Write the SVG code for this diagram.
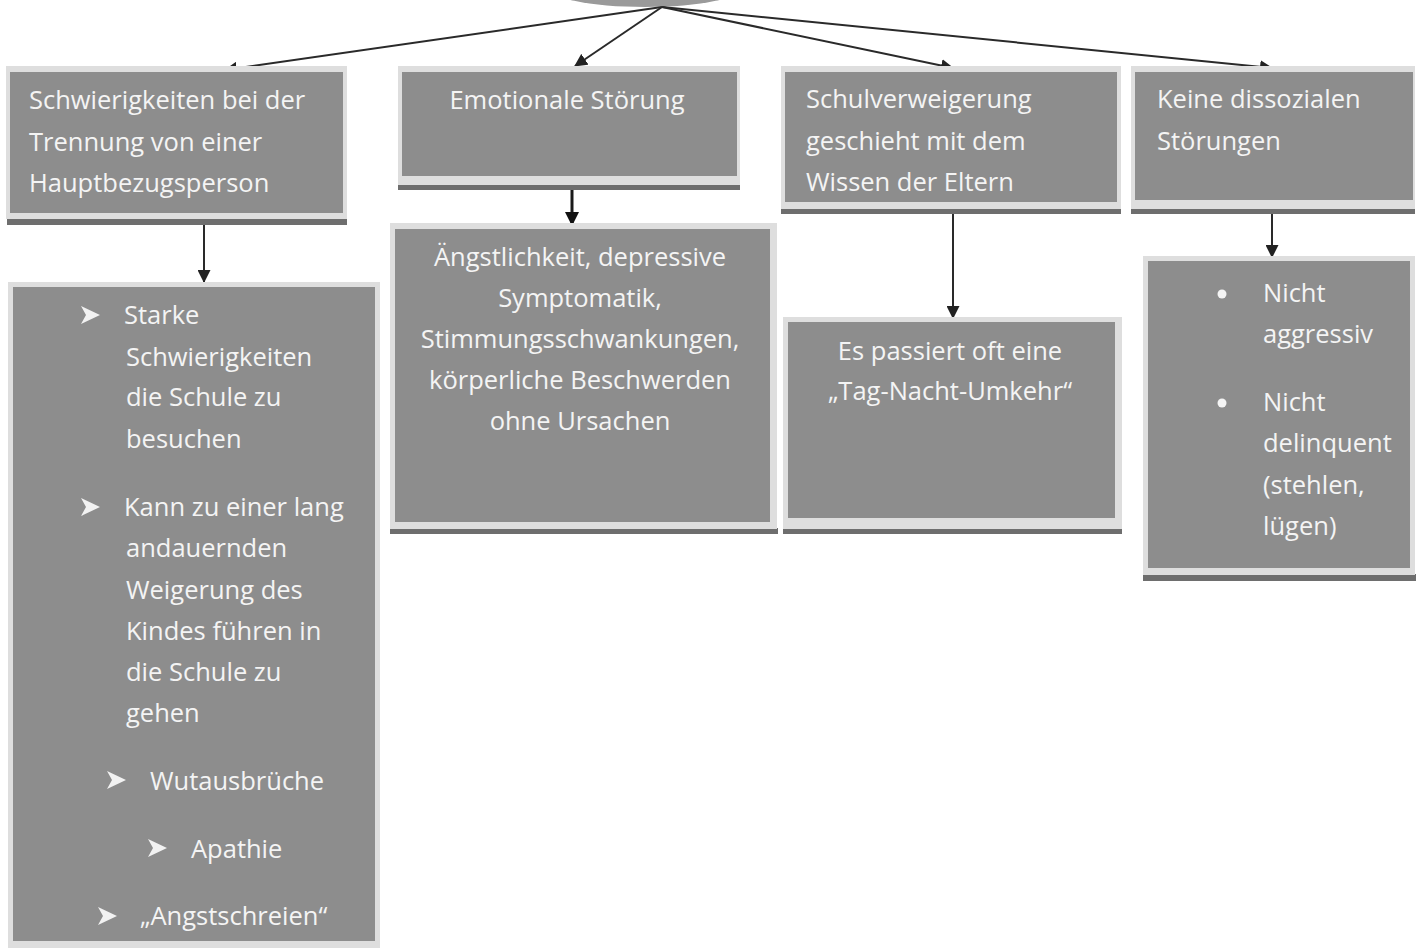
<svg xmlns="http://www.w3.org/2000/svg" width="1418" height="948" viewBox="0 0 1418 948">
<defs>
<style>
.outer{fill:#dedede}
.inner{fill:#8d8d8d}
.shadow{fill:#6e6e6e}
.t{font-family:"Open Sans","Liberation Sans",sans-serif;font-size:25.5px;fill:#f4f4f4}
.c{text-anchor:middle}
.conn{stroke:#2a2a2a;stroke-width:2;fill:none}
.thick{stroke:#1a1a1a;stroke-width:3;fill:none}
</style>
<path id="bul" d="M0,0 L19,9 L0,18 L5,9 z" fill="#f2f2f2"/>
<marker id="ah" markerWidth="13" markerHeight="13" refX="12" refY="6.5" orient="auto" markerUnits="userSpaceOnUse" viewBox="0 0 13 13">
<path d="M0,0 L13,6.5 L0,13 z" fill="#222"/>
</marker>
<marker id="ah2" markerWidth="14" markerHeight="14" refX="12" refY="7" orient="auto" markerUnits="userSpaceOnUse" viewBox="0 0 14 14">
<path d="M0,0 L14,7 L0,14 z" fill="#111"/>
</marker>
</defs>
<rect width="1418" height="948" fill="#ffffff"/>

<g id="root">
<ellipse cx="645" cy="-14" rx="100" ry="21" fill="#9a9a9a"/>
</g>

<g id="connectors">
<line class="conn" x1="662" y1="7" x2="225" y2="70" marker-end="url(#ah)"/>
<line class="conn" x1="662" y1="7" x2="575" y2="66" marker-end="url(#ah)"/>
<line class="conn" x1="662" y1="7" x2="953" y2="68" marker-end="url(#ah)"/>
<line class="conn" x1="662" y1="7" x2="1272" y2="68" marker-end="url(#ah)"/>
<line class="conn" x1="204" y1="195" x2="204" y2="282" marker-end="url(#ah)"/>
<line class="thick" x1="572" y1="190" x2="572" y2="224" marker-end="url(#ah2)"/>
<line class="conn" x1="953" y1="214" x2="953" y2="318" marker-end="url(#ah)"/>
<line class="conn" x1="1272" y1="214" x2="1272" y2="257" marker-end="url(#ah)"/>
</g>

<g id="n1">
<rect class="shadow" x="7" y="218" width="340" height="7"/>
<rect class="outer" x="6" y="66" width="341" height="153"/>
<rect class="inner" x="10" y="72" width="333" height="141"/>
<text class="t" x="29" y="109">Schwierigkeiten bei der</text>
<text class="t" x="29" y="151">Trennung von einer</text>
<text class="t" x="29" y="192">Hauptbezugsperson</text>
</g>

<g id="n2">
<rect class="shadow" x="398" y="184" width="342" height="6"/>
<rect class="outer" x="398" y="66" width="342" height="119"/>
<rect class="inner" x="402" y="72" width="335" height="104"/>
<text class="t c" x="567" y="109">Emotionale Störung</text>
</g>

<g id="n3">
<rect class="shadow" x="781" y="208" width="340" height="6"/>
<rect class="outer" x="781" y="66" width="340" height="143"/>
<rect class="inner" x="785" y="72" width="332" height="130"/>
<text class="t" x="806" y="108">Schulverweigerung</text>
<text class="t" x="806" y="150">geschieht mit dem</text>
<text class="t" x="806" y="191">Wissen der Eltern</text>
</g>

<g id="n4">
<rect class="shadow" x="1131" y="208" width="284" height="6"/>
<rect class="outer" x="1131" y="66" width="284" height="143"/>
<rect class="inner" x="1135" y="72" width="278" height="128"/>
<text class="t" x="1157" y="108">Keine dissozialen</text>
<text class="t" x="1157" y="150">Störungen</text>
</g>

<g id="n5">
<rect class="outer" x="8" y="282" width="372" height="666"/>
<rect class="inner" x="13" y="287" width="362" height="654"/>
<use href="#bul" x="81" y="306"/>
<text class="t" x="124" y="324">Starke</text>
<text class="t" x="126" y="366">Schwierigkeiten</text>
<text class="t" x="126" y="406">die Schule zu</text>
<text class="t" x="126" y="448">besuchen</text>
<use href="#bul" x="81" y="498"/>
<text class="t" x="124" y="516">Kann zu einer lang</text>
<text class="t" x="126" y="557">andauernden</text>
<text class="t" x="126" y="599">Weigerung des</text>
<text class="t" x="126" y="640">Kindes führen in</text>
<text class="t" x="126" y="681">die Schule zu</text>
<text class="t" x="126" y="722">gehen</text>
<use href="#bul" x="107" y="771"/>
<text class="t" x="150" y="790">Wutausbrüche</text>
<use href="#bul" x="148" y="839"/>
<text class="t" x="191" y="858">Apathie</text>
<use href="#bul" x="98" y="907"/>
<text class="t" x="140" y="925">„Angstschreien“</text>
</g>

<g id="n6">
<rect class="shadow" x="390" y="528" width="388" height="6"/>
<rect class="outer" x="390" y="223" width="387" height="306"/>
<rect class="inner" x="395" y="229" width="375" height="293"/>
<text class="t c" x="580" y="266">Ängstlichkeit, depressive</text>
<text class="t c" x="580" y="307">Symptomatik,</text>
<text class="t c" x="580" y="348">Stimmungsschwankungen,</text>
<text class="t c" x="580" y="389">körperliche Beschwerden</text>
<text class="t c" x="580" y="430">ohne Ursachen</text>
</g>

<g id="n7">
<rect class="shadow" x="783" y="528" width="339" height="6"/>
<rect class="outer" x="783" y="317" width="339" height="212"/>
<rect class="inner" x="788" y="322" width="327" height="196"/>
<text class="t c" x="950" y="360">Es passiert oft eine</text>
<text class="t c" x="950" y="400">„Tag-Nacht-Umkehr“</text>
</g>

<g id="n8">
<rect class="shadow" x="1143" y="574" width="273" height="7"/>
<rect class="outer" x="1143" y="256" width="272" height="319"/>
<rect class="inner" x="1148" y="261" width="262" height="307"/>
<circle cx="1222" cy="294" r="4.5" fill="#f4f4f4"/>
<text class="t" x="1263" y="302">Nicht</text>
<text class="t" x="1263" y="343">aggressiv</text>
<circle cx="1222" cy="403" r="4.5" fill="#f4f4f4"/>
<text class="t" x="1263" y="411">Nicht</text>
<text class="t" x="1263" y="452">delinquent</text>
<text class="t" x="1263" y="494">(stehlen,</text>
<text class="t" x="1263" y="535">lügen)</text>
</g>
</svg>
